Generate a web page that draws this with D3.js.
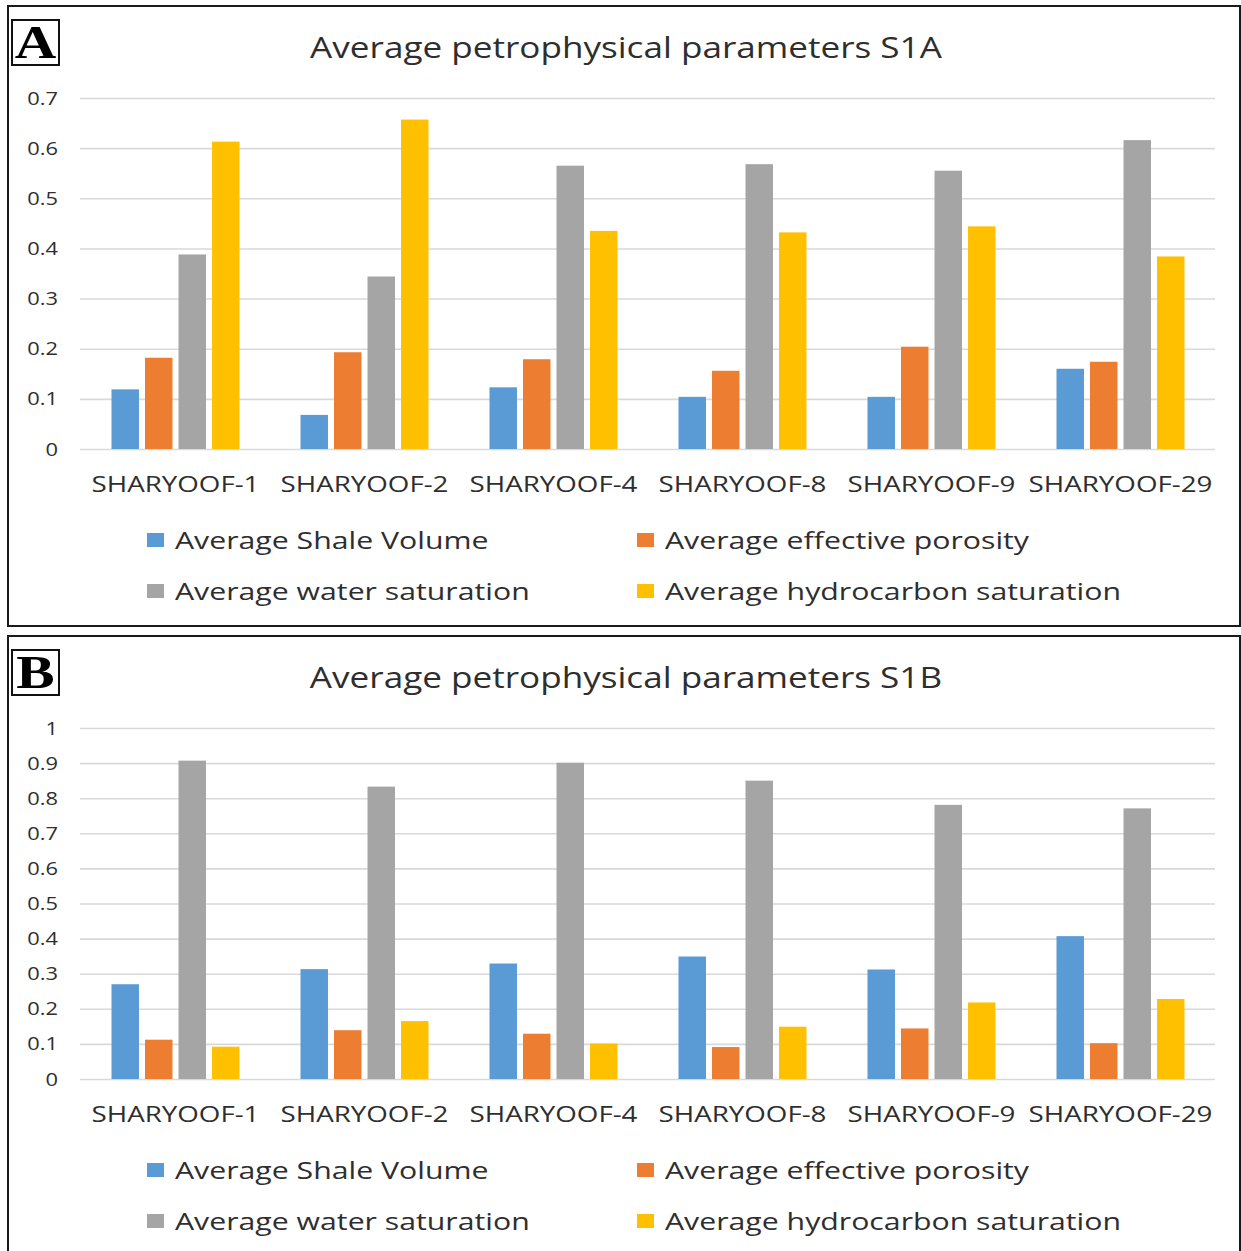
<!DOCTYPE html>
<html>
<head>
<meta charset="utf-8">
<script src="https://cdn.jsdelivr.net/npm/d3@7"></script>
<style>
  html, body { margin: 0; padding: 0; background: #fff; }
  svg { display: block; }
  text { font-family: "Open Sans", "Noto Sans", sans-serif; fill: #2e2e2e; }
</style>
</head>
<body>
<svg id="fig" width="1241" height="1251"></svg>
<script>
// Wells (x categories)
const wells = ["SHARYOOF-1", "SHARYOOF-2", "SHARYOOF-4", "SHARYOOF-8", "SHARYOOF-9", "SHARYOOF-29"];

// Series names (legend order)
const seriesNames = [
  "Average Shale Volume",
  "Average effective porosity",
  "Average water saturation",
  "Average hydrocarbon saturation"
];

// Zone S1A averages per well
const shaleS1A       = [0.119, 0.068, 0.123, 0.104, 0.104, 0.160];
const porosityS1A    = [0.182, 0.193, 0.179, 0.156, 0.204, 0.174];
const waterS1A       = [0.388, 0.344, 0.565, 0.568, 0.555, 0.616];
const hydrocarbonS1A = [0.613, 0.657, 0.435, 0.432, 0.444, 0.384];

// Zone S1B averages per well
const shaleS1B       = [0.270, 0.313, 0.329, 0.349, 0.312, 0.407];
const porosityS1B    = [0.112, 0.139, 0.129, 0.091, 0.144, 0.102];
const waterS1B       = [0.907, 0.833, 0.901, 0.850, 0.781, 0.771];
const hydrocarbonS1B = [0.092, 0.165, 0.101, 0.149, 0.218, 0.228];

// Y-axis ticks
const ticksS1A = [0, 0.1, 0.2, 0.3, 0.4, 0.5, 0.6, 0.7];
const ticksS1B = [0, 0.1, 0.2, 0.3, 0.4, 0.5, 0.6, 0.7, 0.8, 0.9, 1];

const palette = ["#5B9BD5", "#ED7D31", "#A5A5A5", "#FFC000"];

const svg = d3.select("#fig");

// widen a text element horizontally by a factor
function stretch(sel, k) {
  sel.each(function () {
    const w = this.getComputedTextLength();
    d3.select(this).attr("textLength", w * k).attr("lengthAdjust", "spacingAndGlyphs");
  });
}

function drawPanel(cfg) {
  const g = svg.append("g").attr("transform", `translate(0,${cfg.dy})`);

  // frame
  g.append("rect")
    .attr("x", 8).attr("y", 6).attr("width", 1232).attr("height", cfg.frameH)
    .attr("fill", "none").attr("stroke", "#1a1a1a").attr("stroke-width", 2);

  // letter tag
  g.append("rect")
    .attr("x", 12).attr("y", 20).attr("width", 47).attr("height", 45)
    .attr("fill", "#fff").attr("stroke", "#111").attr("stroke-width", 2);
  g.append("text")
    .attr("x", 35.5).attr("y", 58)
    .attr("text-anchor", "middle")
    .style("font-family", "'Liberation Serif', 'DejaVu Serif', serif")
    .style("font-weight", "bold").style("font-size", "46px").style("fill", "#000")
    .text(cfg.tag)
    .call(stretch, 1.25);

  // title
  g.append("text")
    .attr("x", 626).attr("y", 58)
    .attr("text-anchor", "middle")
    .style("font-size", "30px")
    .text(cfg.title)
    .call(stretch, 1.17);

  const x0 = d3.scaleBand().domain(wells).range([81, 1215]).padding(0);
  const x1 = d3.scaleBand().domain(seriesNames).range([-64, 64]).paddingInner(0.18).paddingOuter(0);
  const y = d3.scaleLinear().domain(cfg.domain).range([449, 98]);

  // gridlines + tick labels
  const axis = d3.axisLeft(y).tickValues(cfg.ticks)
    .tickSize(-(1215 - 80)).tickPadding(22)
    .tickFormat(d => d3.format("")(+d.toFixed(1)));
  const ax = g.append("g").attr("transform", "translate(80,0)").call(axis);
  ax.select(".domain").remove();
  ax.selectAll(".tick line").attr("stroke", "#D9D9D9").attr("stroke-width", 1.6);
  ax.selectAll(".tick text")
    .style("font-size", "19px").style("fill", "#2e2e2e")
    .style("font-family", "'Open Sans', sans-serif")
    .attr("font-family", null).attr("font-size", null)
    .call(stretch, 1.15);

  // bars
  const series = cfg.values;
  const groups = g.append("g").selectAll("g").data(wells).join("g")
    .attr("transform", d => `translate(${x0(d) + x0.bandwidth() / 2},0)`);
  groups.selectAll("rect")
    .data((w, i) => seriesNames.map((s, j) => ({ s, j, v: series[j][i] })))
    .join("rect")
    .attr("x", d => x1(d.s))
    .attr("width", x1.bandwidth())
    .attr("y", d => y(d.v))
    .attr("height", d => y(0) - y(d.v))
    .attr("fill", d => palette[d.j]);

  // category labels
  g.append("g").selectAll("text").data(wells).join("text")
    .attr("x", d => x0(d) + x0.bandwidth() / 2)
    .attr("y", 492)
    .attr("text-anchor", "middle")
    .style("font-size", "21px")
    .text(d => d)
    .call(stretch, 1.32);

  // legend
  const legendPos = [[147, 540], [637, 540], [147, 591], [637, 591]];
  const lg = g.append("g").selectAll("g").data(seriesNames).join("g")
    .attr("transform", (d, i) => `translate(${legendPos[i][0]},${legendPos[i][1]})`);
  lg.append("rect")
    .attr("x", 0).attr("y", -7).attr("width", 17).attr("height", 14)
    .attr("fill", (d, i) => palette[i]);
  lg.append("text")
    .attr("x", 28).attr("y", 8.5)
    .style("font-size", "24px")
    .text(d => d)
    .call(stretch, 1.26);
}

drawPanel({
  dy: 0, frameH: 620, tag: "A",
  title: "Average petrophysical parameters S1A",
  domain: [0, 0.7], ticks: ticksS1A,
  values: [shaleS1A, porosityS1A, waterS1A, hydrocarbonS1A]
});

drawPanel({
  dy: 630, frameH: 620, tag: "B",
  title: "Average petrophysical parameters S1B",
  domain: [0, 1], ticks: ticksS1B,
  values: [shaleS1B, porosityS1B, waterS1B, hydrocarbonS1B]
});
</script>
</body>
</html>
